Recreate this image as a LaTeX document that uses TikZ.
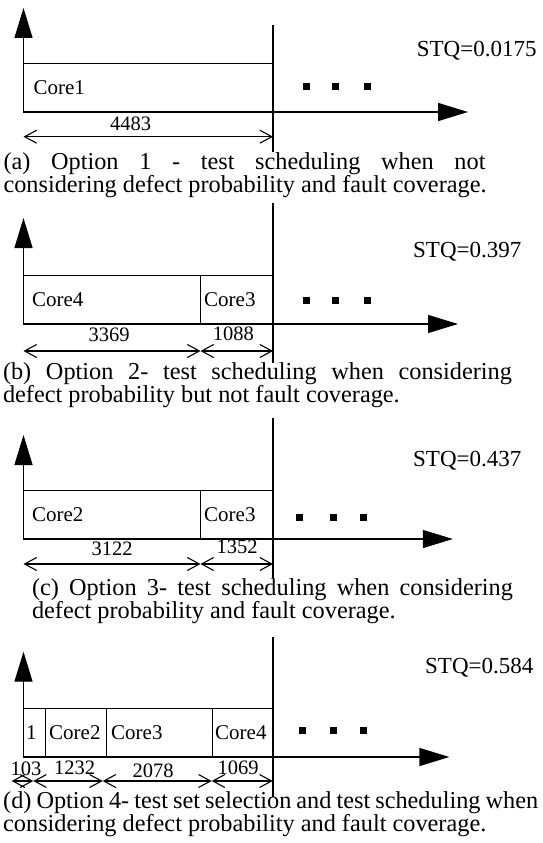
\documentclass[tikz,border=0pt]{standalone}
\usepackage{fontspec}
\setmainfont{Liberation Serif}
\usetikzlibrary{arrows.meta}

\begin{document}
\begin{tikzpicture}[x=1pt, y=-1pt,
    axisarrow/.style={line width=1.4pt, -{Triangle[length=30pt, width=18pt]}},
    slot/.style={draw, line width=1.4pt, anchor=south west, minimum height=48.7pt, inner sep=0pt, outer sep=0pt},
    span/.style={line width=1.1pt, {Straight Barb[length=12pt, width=13pt]}-{Straight Barb[length=12pt, width=13pt]}},
    endline/.style={line width=1.4pt},
    lbl/.style={font=\fontsize{21}{21}\selectfont, inner sep=0pt},
    numlbl/.style={font=\fontsize{20.5}{21}\selectfont, inner sep=0pt, anchor=base},
    stq/.style={font=\fontsize{23}{23}\selectfont, inner sep=0pt, anchor=base west},
    sqdot/.style={fill, minimum size=7pt, inner sep=0pt},
    captxt/.style={font=\fontsize{24.3}{20.7}\selectfont, inner sep=0pt, anchor=base west}]
  \useasboundingbox (0,0) rectangle (542,843);

  % (a) Option 1
  \coordinate (oa) at (23.5,112);
  \coordinate (ya) at (23.5,8);
  \coordinate (xa) at (468,112);
  \coordinate (ta) at (273,25);
  \coordinate (ba) at (273,152);
  \node[slot, minimum width=249.5pt] (a1) at (oa) {};
  \node[lbl, anchor=west] (a1t) at ([xshift=9.8pt]a1.west) {Core1};
  \draw[axisarrow] (oa) -- (ya);
  \draw[axisarrow] (oa) -- (xa);
  \draw[endline] (ta) -- (ba);
  \node[sqdot] (ad1) at (306,86) {};
  \node[sqdot] (ad2) at (335,86) {};
  \node[sqdot] (ad3) at (367,86) {};
  \node[stq] (stqa) at (416.7,56.7) {STQ=0.0175};
  \coordinate (la0) at (23.5,136.7);
  \coordinate (la1) at (273,136.7);
  \draw[span] (la0) -- (la1);
  \node[numlbl] (na1) at (130.7,130.7) {4483};
  \node[captxt] (capa) at (3.3,169) {\vtop{\hbox to 482pt{(a) Option 1 - test scheduling when not}\hbox{considering defect probability and fault coverage.}}};

  % (b) Option 2
  \coordinate (ob) at (23.5,324);
  \coordinate (yb) at (23.5,218);
  \coordinate (xb) at (458,324);
  \coordinate (tb) at (273,203);
  \coordinate (bb) at (273,363);
  \node[slot, minimum width=177pt] (b1) at (ob) {};
  \node[slot, minimum width=72.5pt] (b2) at (b1.south east) {};
  \node[lbl, anchor=west] (b1t) at ([xshift=8.3pt]b1.west) {Core4};
  \node[lbl, anchor=west] (b2t) at ([xshift=3.5pt]b2.west) {Core3};
  \draw[axisarrow] (ob) -- (yb);
  \draw[axisarrow] (ob) -- (xb);
  \draw[endline] (tb) -- (bb);
  \node[sqdot] (bd1) at (306,300.7) {};
  \node[sqdot] (bd2) at (335,300.7) {};
  \node[sqdot] (bd3) at (367,300.7) {};
  \node[stq] (stqb) at (413,257.5) {STQ=0.397};
  \coordinate (lb0) at (23.5,351);
  \coordinate (lb1) at (200.5,351);
  \coordinate (lb2) at (273,351);
  \draw[span] (lb0) -- (lb1);
  \draw[span] (lb1) -- (lb2);
  \node[numlbl] (nb1) at (109,341) {3369};
  \node[numlbl] (nb2) at (233.4,340.7) {1088};
  \node[captxt] (capb) at (2.8,379) {\vtop{\hbox to 509pt{(b) Option 2- test scheduling when considering}\hbox{defect probability but not fault coverage.}}};

  % (c) Option 3
  \coordinate (oc) at (23.5,539);
  \coordinate (yc) at (23.5,435);
  \coordinate (xc) at (452.8,539);
  \coordinate (tc) at (273,418);
  \coordinate (bc) at (273,578);
  \node[slot, minimum width=177pt] (c1) at (oc) {};
  \node[slot, minimum width=72.5pt] (c2) at (c1.south east) {};
  \node[lbl, anchor=west] (c1t) at ([xshift=8.3pt]c1.west) {Core2};
  \node[lbl, anchor=west] (c2t) at ([xshift=3.5pt]c2.west) {Core3};
  \draw[axisarrow] (oc) -- (yc);
  \draw[axisarrow] (oc) -- (xc);
  \draw[endline] (tc) -- (bc);
  \node[sqdot] (cd1) at (299,517.3) {};
  \node[sqdot] (cd2) at (333.6,517.3) {};
  \node[sqdot] (cd3) at (363,517.3) {};
  \node[stq] (stqc) at (413,466.7) {STQ=0.437};
  \coordinate (lc0) at (23.5,564);
  \coordinate (lc1) at (200.5,564);
  \coordinate (lc2) at (273,564);
  \draw[span] (lc0) -- (lc1);
  \draw[span] (lc1) -- (lc2);
  \node[numlbl] (nc1) at (112,555) {3122};
  \node[numlbl] (nc2) at (237,553.3) {1352};
  \node[captxt] (capc) at (31.8,595) {\vtop{\hbox to 481pt{(c) Option 3- test scheduling when considering}\hbox{defect probability and fault coverage.}}};

  % (d) Option 4
  \coordinate (od) at (23.5,757);
  \coordinate (yd) at (23.5,651.7);
  \coordinate (xd) at (449.4,757);
  \coordinate (td) at (273,637);
  \coordinate (bd) at (273,797);
  \node[slot, minimum width=22.2pt] (d1) at (od) {};
  \node[slot, minimum width=61pt] (d2) at (d1.south east) {};
  \node[slot, minimum width=105.6pt] (d3) at (d2.south east) {};
  \node[slot, minimum width=60.7pt] (d4) at (d3.south east) {};
  \node[lbl, anchor=west] (d1t) at ([xshift=2.5pt]d1.west) {1};
  \node[lbl, anchor=west] (d2t) at ([xshift=3.3pt]d2.west) {Core2};
  \node[lbl, anchor=west] (d3t) at ([xshift=4.3pt]d3.west) {Core3};
  \node[lbl, anchor=west] (d4t) at ([xshift=2.7pt]d4.west) {Core4};
  \draw[axisarrow] (od) -- (yd);
  \draw[axisarrow] (od) -- (xd);
  \draw[endline] (td) -- (bd);
  \node[sqdot] (dd1) at (302.5,730) {};
  \node[sqdot] (dd2) at (333,730) {};
  \node[sqdot] (dd3) at (363,730) {};
  \node[stq] (stqd) at (425,673) {STQ=0.584};
  \coordinate (ld0) at (11.7,781);
  \coordinate (ld1) at (33.3,781);
  \coordinate (ld2) at (102.7,781);
  \coordinate (ld3) at (211.7,781);
  \coordinate (ld4) at (272.7,781);
  \draw[span] (ld0) -- (ld1);
  \draw[span] (ld1) -- (ld2);
  \draw[span] (ld2) -- (ld3);
  \draw[span] (ld3) -- (ld4);
  \node[numlbl] (nd1) at (26,775) {103};
  \node[numlbl] (nd2) at (74.5,774) {1232};
  \node[numlbl] (nd3) at (153,777.3) {2078};
  \node[numlbl] (nd4) at (238,774) {1069};
  \node[captxt] (capd) at (3,808.3) {\vtop{\hbox to 535pt{(d) Option 4- test set selection and test scheduling when}\hbox{considering defect probability and fault coverage.}}};
\end{tikzpicture}
\end{document}
